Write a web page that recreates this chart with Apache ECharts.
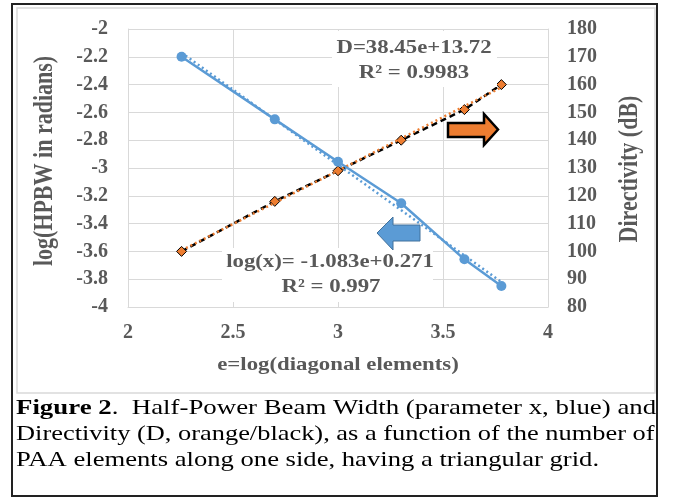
<!DOCTYPE html>
<html><head><meta charset="utf-8">
<script src="https://cdn.jsdelivr.net/npm/echarts@6/dist/echarts.min.js"></script>
<style>html,body{margin:0;padding:0;background:#fff}#c{width:673px;height:497px}</style>
</head><body><div id="c"></div>
<script>
// Data
const eValues = [2.255, 2.699, 3.0, 3.301, 3.602, 3.778];
const logHPBW = [-2.2, -2.65, -2.955, -3.254, -3.657, -3.849];
const directivity = [100, 118, 129, 140, 151, 160];
const blueTrendE = [2.255, 3.778];
const blueTrendY = [-2.171, -3.82];
const orangeTrendE = [2.255, 3.778];
const orangeTrendY = [100.4, 159.0];
const xTicks = [2, 2.5, 3, 3.5, 4];
const leftTicks = [-4, -3.8, -3.6, -3.4, -3.2, -3, -2.8, -2.6, -2.4, -2.2, -2];
const rightTicks = [80, 90, 100, 110, 120, 130, 140, 150, 160, 170, 180];
const blueEq = ['log(x)= -1.083e+0.271', 'R² = 0.997'];
const orangeEq = ['D=38.45e+13.72', 'R² = 0.9983'];
const caption = [
  ['Figure 2', '.  Half-Power Beam Width (parameter x, blue) and'],
  ['', 'Directivity (D, orange/black), as a function of the number of'],
  ['', 'PAA elements along one side, having a triangular grid.']
];

const FONT = '"Liberation Serif", "Times New Roman", serif';
const GRAY = '#595959';
const BLUE = '#5b9bd5';
const ORANGE = '#ed7d31';
const SX = 1.2; // horizontal stretch seen in the reference text
const pairs = (xs, ys) => xs.map((x, i) => [x, ys[i]]);

const chart = echarts.init(document.getElementById('c'));
const tickFont = {fontFamily: FONT, fontWeight: 'bold', fontSize: 20, color: GRAY};

chart.setOption({
  animation: false,
  backgroundColor: '#fff',
  grid: {left: 128, top: 29, right: 125, bottom: 190, containLabel: false},
  xAxis: {
    type: 'value', min: xTicks[0], max: xTicks[xTicks.length - 1], interval: 0.5,
    axisLine: {show: true, lineStyle: {color: '#d9d9d9', width: 1}},
    axisTick: {show: false},
    splitLine: {show: true, lineStyle: {color: '#d9d9d9', width: 1}},
    axisLabel: Object.assign({margin: 16, formatter: v => String(+v.toFixed(1))}, tickFont)
  },
  yAxis: [{
    type: 'value', min: leftTicks[0], max: leftTicks[leftTicks.length - 1], interval: 0.2,
    axisLine: {show: true, lineStyle: {color: '#d9d9d9', width: 1}},
    axisTick: {show: false},
    splitLine: {show: true, lineStyle: {color: '#d9d9d9', width: 1}},
    axisLabel: Object.assign({margin: 20, formatter: v => String(+v.toFixed(1))}, tickFont)
  }, {
    type: 'value', position: 'right', min: rightTicks[0], max: rightTicks[rightTicks.length - 1], interval: 10,
    axisLine: {show: true, lineStyle: {color: '#d9d9d9', width: 1}},
    axisTick: {show: false},
    splitLine: {show: false},
    axisLabel: Object.assign({margin: 19}, tickFont)
  }],
  series: [
    {type: 'line', yAxisIndex: 1, data: pairs(eValues, directivity), z: 3,
     lineStyle: {color: '#000', width: 2.5, type: [6, 4]},
     symbol: 'diamond', symbolSize: 10,
     itemStyle: {color: ORANGE, borderColor: '#000', borderWidth: 1}},
    {type: 'line', yAxisIndex: 1, data: pairs(orangeTrendE, orangeTrendY), z: 4,
     lineStyle: {color: ORANGE, width: 2.5, type: [2, 3]}, symbol: 'none'},
    {type: 'line', yAxisIndex: 0, data: pairs(blueTrendE, blueTrendY), z: 3,
     lineStyle: {color: BLUE, width: 2.5, type: [2, 3]}, symbol: 'none'},
    {type: 'line', yAxisIndex: 0, data: pairs(eValues, logHPBW), z: 5,
     lineStyle: {color: BLUE, width: 2.5}, symbol: 'circle', symbolSize: 10,
     itemStyle: {color: BLUE}}
  ],
  graphic: [
    // outer and inner frames
    {type: 'rect', shape: {x: 17, y: 8, width: 638, height: 385}, style: {fill: 'none', stroke: '#d9d9d9', lineWidth: 1.5}, z: 1},
    {type: 'rect', shape: {x: 12, y: 4, width: 645, height: 492}, style: {fill: 'none', stroke: '#222', lineWidth: 2}, z: 1},
    // axis titles
    {type: 'text', x: 45, y: 161, rotation: Math.PI / 2, scaleY: SX,
     style: {text: 'log(HPBW in radians)', font: 'bold 22px ' + FONT, fill: GRAY, textAlign: 'center', textVerticalAlign: 'middle'}, z: 10},
    {type: 'text', x: 630, y: 169, rotation: Math.PI / 2, scaleY: SX,
     style: {text: 'Directivity (dB)', font: 'bold 22px ' + FONT, fill: GRAY, textAlign: 'center', textVerticalAlign: 'middle'}, z: 10},
    {type: 'text', x: 338, y: 365, scaleX: SX,
     style: {text: 'e=log(diagonal elements)', font: 'bold 19px ' + FONT, fill: GRAY, textAlign: 'center', textVerticalAlign: 'middle'}, z: 10},
    // equation boxes
    {type: 'rect', shape: {x: 332, y: 31, width: 165, height: 56}, style: {fill: '#fff'}, z: 8},
    {type: 'text', x: 414, y: 48, scaleX: SX, style: {text: orangeEq[0], font: 'bold 19px ' + FONT, fill: GRAY, textAlign: 'center', textVerticalAlign: 'middle'}, z: 10},
    {type: 'text', x: 414, y: 73, scaleX: SX, style: {text: orangeEq[1], font: 'bold 19px ' + FONT, fill: GRAY, textAlign: 'center', textVerticalAlign: 'middle'}, z: 10},
    {type: 'rect', shape: {x: 222, y: 248, width: 211, height: 54}, style: {fill: '#fff'}, z: 8},
    {type: 'text', x: 330, y: 262, scaleX: SX, style: {text: blueEq[0], font: 'bold 19px ' + FONT, fill: GRAY, textAlign: 'center', textVerticalAlign: 'middle'}, z: 10},
    {type: 'text', x: 331, y: 287, scaleX: SX, style: {text: blueEq[1], font: 'bold 19px ' + FONT, fill: GRAY, textAlign: 'center', textVerticalAlign: 'middle'}, z: 10},
    // arrows
    {type: 'polygon', shape: {points: [[448, 123], [484, 123], [484, 114], [498, 129.5], [484, 145], [484, 137], [448, 137]]},
     style: {fill: ORANGE, stroke: '#000', lineWidth: 2.5, lineJoin: 'miter'}, z: 10},
    {type: 'polygon', shape: {points: [[420, 225], [393, 225], [393, 217], [377, 233], [393, 250], [393, 241], [420, 241]]},
     style: {fill: BLUE, stroke: '#41719c', lineWidth: 1}, z: 10},
    // caption
    {type: 'text', x: 16, y: 408, scaleX: 1.22, style: {
      text: '{b|' + caption[0][0] + '}{r|' + caption[0][1] + '}',
      textVerticalAlign: 'middle',
      rich: {b: {font: 'bold 22px ' + FONT, fill: '#000'}, r: {font: '22px ' + FONT, fill: '#000'}}}, z: 10},
    {type: 'text', x: 16, y: 434, scaleX: 1.2, style: {text: caption[1][1], font: '22px ' + FONT, fill: '#000', textVerticalAlign: 'middle'}, z: 10},
    {type: 'text', x: 16, y: 460, scaleX: 1.21, style: {text: caption[2][1], font: '22px ' + FONT, fill: '#000', textVerticalAlign: 'middle'}, z: 10}
  ]
});
</script></body></html>
